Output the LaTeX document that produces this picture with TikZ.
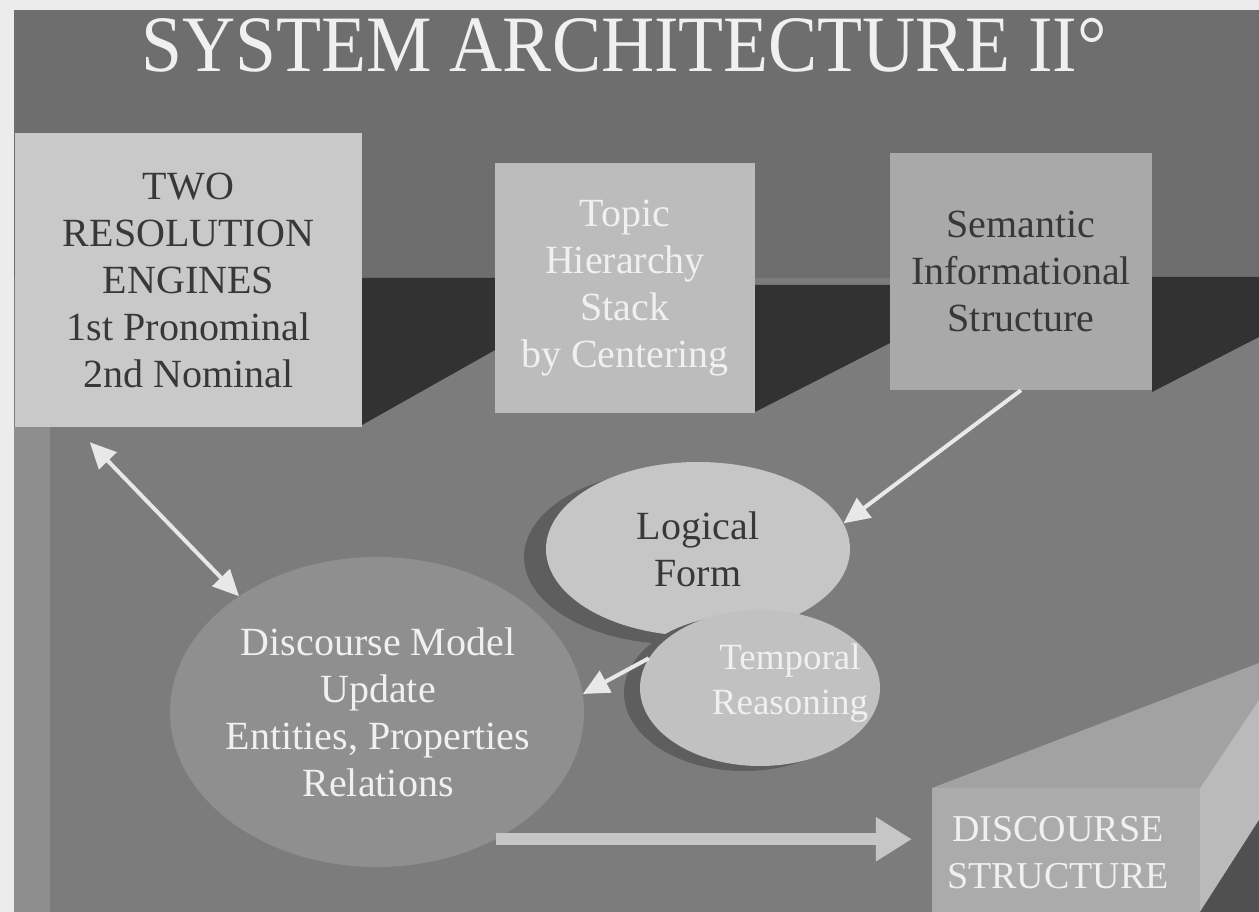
\documentclass[tikz,border=0pt]{standalone}
\usepackage{fontspec}
\setmainfont{Liberation Serif}
\usepackage{xcolor}
\usetikzlibrary{shapes.geometric,arrows.meta}
\definecolor{scan}{HTML}{ECECEC}
\definecolor{bgtop}{HTML}{6E6E6E}
\definecolor{bglow}{HTML}{7C7C7C}
\definecolor{bgstrip}{HTML}{8E8E8E}
\definecolor{band}{HTML}{323232}
\definecolor{boxa}{HTML}{C9C9C9}
\definecolor{boxb}{HTML}{BCBCBC}
\definecolor{boxc}{HTML}{A9A9A9}
\definecolor{pale}{HTML}{C6C6C6}
\definecolor{paleb}{HTML}{C1C1C1}
\definecolor{modelgray}{HTML}{8F8F8F}
\definecolor{shadowgray}{HTML}{5E5E5E}
\definecolor{inktext}{HTML}{383838}
\definecolor{lighttext}{HTML}{F0F0F0}
\definecolor{arrowwhite}{HTML}{E8E8E8}
\definecolor{fatarrow}{HTML}{C6C6C6}
\definecolor{frontface}{HTML}{ABABAB}
\definecolor{topface}{HTML}{A2A2A2}
\definecolor{sideface}{HTML}{BABABA}
\definecolor{cornerdark}{HTML}{505050}

\begin{document}
\begin{tikzpicture}[x=1pt,y=-1pt,
    every node/.style={font=\fontsize{40}{47}\selectfont},
    slab/.style={rectangle,inner sep=0pt,align=center},
    blob/.style={ellipse,inner sep=0pt},
    words/.style={align=center,inner sep=0pt},
    wa/.style={draw=arrowwhite,line width=4pt,-{Triangle[length=26pt,width=24pt]}},
    wab/.style={draw=arrowwhite,line width=4pt,{Triangle[length=26pt,width=24pt]}-{Triangle[length=26pt,width=24pt]}},
    fat/.style={draw=fatarrow,line width=12pt,-{Triangle[length=36pt,width=42pt]}}]
            		\useasboundingbox (0,0) rectangle (1259,912);
            		\clip (0,0) rectangle (1259,912);
            		\fill[scan] (0,0) rectangle (1259,912);
            		\fill[bgtop] (14,10) rectangle (1259,912);
            		\fill[bglow] (14,278) rectangle (1259,912);
            		\fill[bgstrip] (14,427) rectangle (50,912);

            		\fill[band] (362,278) -- (495,278) -- (495,350) -- (362,425) -- cycle;
            		\fill[band] (755,285) -- (890,285) -- (890,343) -- (755,412) -- cycle;
            		\fill[band] (1152,277) -- (1259,277) -- (1259,337) -- (1152,392) -- cycle;

            		\node (title) at (624,72) [anchor=base,text=lighttext,font=\fontsize{80}{90}\selectfont,xscale=0.92] {SYSTEM ARCHITECTURE II\textdegree};

            		\node (engines) at (188.5,280) [slab,fill=boxa,text=inktext,minimum width=347pt,minimum height=294pt] {TWO\\RESOLUTION\\ENGINES\\1st Pronominal\\2nd Nominal};
            		\node (topic) at (625,288) [slab,fill=boxb,text=lighttext,minimum width=260pt,minimum height=250pt] {Topic\\Hierarchy\\Stack\\by Centering};
            		\node (semantic) at (1021,271.5) [slab,fill=boxc,text=inktext,minimum width=262pt,minimum height=237pt] {Semantic\\Informational\\Structure};

            		\node (logic-shadow) at (676,557) [blob,fill=shadowgray,minimum width=304pt,minimum height=174pt] {};
            		\node (logic) at (698,549) [blob,fill=pale,text=inktext,minimum width=304pt,minimum height=174pt,align=center] {Logical\\Form};
            		\node (temporal-shadow) at (744,693) [blob,fill=shadowgray,minimum width=240pt,minimum height=156pt] {};
            		\node (temporal) at (760,688) [blob,fill=paleb,minimum width=240pt,minimum height=156pt] {};
            		\node (temporal-text) at (790,683) [words,text=lighttext,font=\fontsize{37}{45}\selectfont] {Temporal\\Reasoning};

            		\node (discourse) at (377,712) [blob,fill=modelgray,minimum width=414pt,minimum height=310pt] {};
            		\node (discourse-text) at (378,712) [words,text=lighttext] {Discourse Model\\Update\\Entities, Properties\\Relations};

            		\fill[topface] (932,788) -- (1259,663) -- (1259,700) -- (1200,788) -- cycle;
            		\fill[sideface] (1200,788) -- (1259,700) -- (1259,912) -- (1200,912) -- cycle;
            		\fill[cornerdark] (1200,912) -- (1259,820) -- (1259,912) -- cycle;
            		\node (structure) at (1066,850) [slab,fill=frontface,minimum width=268pt,minimum height=124pt] {};
            		\node (structure-text) at (1058,853) [words,text=lighttext,font=\fontsize{38}{47}\selectfont] {DISCOURSE\\STRUCTURE};

            		\draw[wab] ([xshift=75pt,yshift=-15pt]engines.south west) -- (discourse.140);
            		\draw[wa] (semantic.south) -- (logic.10);
            		\draw[wa] (temporal.165) -- (discourse.5);
            		\draw[fat,shorten >=20pt] (discourse.-47) -- (discourse.-47 -| structure.west);
        		\end{tikzpicture}
\end{document}
